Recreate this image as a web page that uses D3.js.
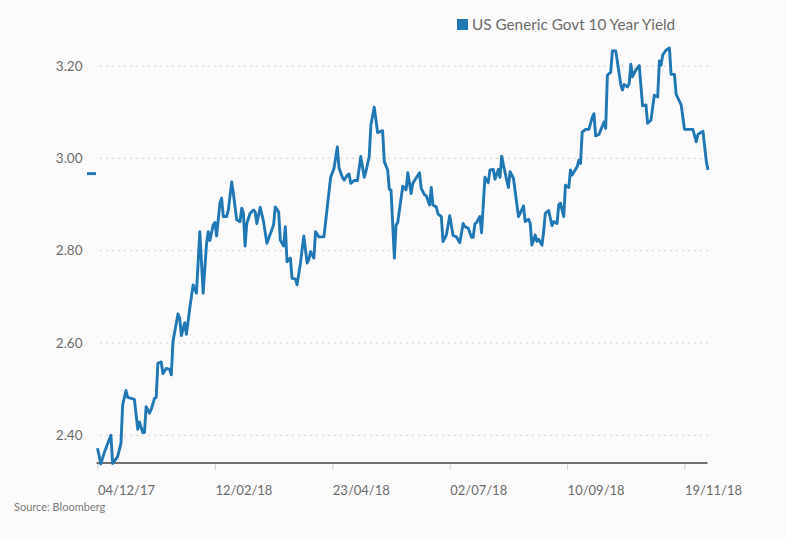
<!DOCTYPE html>
<html>
<head>
<meta charset="utf-8">
<script src="https://cdn.jsdelivr.net/npm/d3@7"></script>
<style>
  html, body { margin: 0; padding: 0; background: #fbfbfb; }
  svg { display: block; font-family: Lato, "Noto Sans", sans-serif; }
</style>
</head>
<body>
<div id="chart"></div>
<script>
// US 10Y yield
const seriesName = "US Generic Govt 10 Year Yield";
const sourceText = "Source: Bloomberg";

const dates = [
  "2017-12-04","2017-12-06","2017-12-08","2017-12-12","2017-12-13","2017-12-16","2017-12-18","2017-12-19",
  "2017-12-21","2017-12-22","2017-12-26","2017-12-28","2017-12-29","2017-12-31","2018-01-01","2018-01-02",
  "2018-01-04","2018-01-05","2018-01-07","2018-01-08","2018-01-09","2018-01-11","2018-01-12","2018-01-14",
  "2018-01-16","2018-01-17","2018-01-18","2018-01-21","2018-01-22","2018-01-23","2018-01-25","2018-01-26",
  "2018-01-28","2018-01-30","2018-02-01","2018-02-03","2018-02-05","2018-02-07","2018-02-08","2018-02-09",
  "2018-02-11","2018-02-12","2018-02-13","2018-02-15","2018-02-16","2018-02-17","2018-02-19","2018-02-20",
  "2018-02-22","2018-02-23","2018-02-25","2018-02-27","2018-02-28","2018-03-01","2018-03-02","2018-03-03",
  "2018-03-05","2018-03-07","2018-03-08","2018-03-09","2018-03-11","2018-03-13","2018-03-15","2018-03-19",
  "2018-03-20","2018-03-22","2018-03-23","2018-03-25","2018-03-26","2018-03-27","2018-03-29","2018-03-30",
  "2018-04-01","2018-04-02","2018-04-04","2018-04-06","2018-04-08","2018-04-09","2018-04-10","2018-04-12",
  "2018-04-13","2018-04-15","2018-04-18","2018-04-22","2018-04-24","2018-04-26","2018-04-27","2018-04-29",
  "2018-04-30","2018-05-02","2018-05-03","2018-05-04","2018-05-06","2018-05-08","2018-05-10","2018-05-12",
  "2018-05-13","2018-05-15","2018-05-16","2018-05-18","2018-05-20","2018-05-23","2018-05-24","2018-05-26",
  "2018-05-27","2018-05-28","2018-05-30","2018-05-31","2018-06-01","2018-06-04","2018-06-06","2018-06-07",
  "2018-06-09","2018-06-10","2018-06-14","2018-06-15","2018-06-17","2018-06-18","2018-06-20","2018-06-21",
  "2018-06-22","2018-06-24","2018-06-25","2018-06-27","2018-06-28","2018-06-30","2018-07-02","2018-07-04",
  "2018-07-06","2018-07-08","2018-07-10","2018-07-11","2018-07-13","2018-07-15","2018-07-16","2018-07-17",
  "2018-07-18","2018-07-20","2018-07-21","2018-07-23","2018-07-25","2018-07-26","2018-07-28","2018-07-29",
  "2018-07-31","2018-08-01","2018-08-02","2018-08-03","2018-08-05","2018-08-06","2018-08-07","2018-08-09",
  "2018-08-12","2018-08-13","2018-08-15","2018-08-16","2018-08-18","2018-08-19","2018-08-20","2018-08-22",
  "2018-08-23","2018-08-24","2018-08-26","2018-08-27","2018-08-28","2018-08-30","2018-09-01","2018-09-02",
  "2018-09-04","2018-09-05","2018-09-06","2018-09-08","2018-09-09","2018-09-11","2018-09-12","2018-09-13",
  "2018-09-16","2018-09-17","2018-09-18","2018-09-19","2018-09-21","2018-09-23","2018-09-25","2018-09-26",
  "2018-09-27","2018-09-29","2018-09-30","2018-10-02","2018-10-03","2018-10-04","2018-10-06","2018-10-07",
  "2018-10-09","2018-10-10","2018-10-12","2018-10-13","2018-10-14","2018-10-16","2018-10-17","2018-10-18",
  "2018-10-19","2018-10-21","2018-10-23","2018-10-25","2018-10-27","2018-10-28","2018-10-30","2018-11-01",
  "2018-11-03","2018-11-04","2018-11-05","2018-11-06","2018-11-08","2018-11-10","2018-11-11","2018-11-13",
  "2018-11-14","2018-11-17","2018-11-19","2018-11-23","2018-11-24","2018-11-26","2018-11-27","2018-11-30",
  "2018-12-02","2018-12-03"
];

const yields = [
  2.372,2.338,2.362,2.400,2.339,2.354,2.383,2.466,
  2.497,2.482,2.478,2.413,2.429,2.406,2.406,2.462,
  2.448,2.456,2.480,2.482,2.556,2.559,2.534,2.545,
  2.543,2.531,2.603,2.663,2.654,2.616,2.644,2.619,
  2.675,2.726,2.708,2.841,2.708,2.815,2.841,2.822,
  2.856,2.861,2.832,2.903,2.914,2.874,2.874,2.888,
  2.949,2.924,2.867,2.863,2.892,2.881,2.810,2.859,
  2.881,2.888,2.884,2.859,2.894,2.863,2.816,2.856,
  2.895,2.884,2.823,2.810,2.852,2.776,2.784,2.740,
  2.739,2.726,2.773,2.832,2.773,2.781,2.798,2.784,
  2.841,2.830,2.830,2.959,2.978,3.025,2.979,2.959,
  2.953,2.964,2.966,2.946,2.952,2.952,3.004,2.959,
  2.971,3.004,3.072,3.111,3.056,3.060,2.993,2.975,
  2.933,2.932,2.784,2.856,2.861,2.940,2.932,2.969,
  2.924,2.946,2.969,2.935,2.921,2.919,2.899,2.937,
  2.899,2.895,2.880,2.874,2.820,2.834,2.876,2.833,
  2.830,2.817,2.859,2.852,2.849,2.829,2.829,2.858,
  2.861,2.874,2.839,2.959,2.947,2.975,2.976,2.955,
  2.976,2.959,3.005,2.986,2.953,2.937,2.971,2.957,
  2.874,2.881,2.897,2.863,2.868,2.859,2.812,2.834,
  2.820,2.825,2.812,2.841,2.881,2.887,2.854,2.863,
  2.859,2.899,2.903,2.874,2.942,2.937,2.975,2.964,
  2.982,2.996,2.989,3.057,3.063,3.063,3.089,3.097,
  3.049,3.052,3.061,3.079,3.065,3.180,3.187,3.233,
  3.233,3.209,3.160,3.148,3.160,3.155,3.162,3.204,
  3.177,3.192,3.201,3.114,3.116,3.076,3.083,3.137,
  3.133,3.211,3.202,3.224,3.235,3.239,3.182,3.182,
  3.139,3.116,3.063,3.063,3.063,3.036,3.052,3.059,
  2.993,2.975
];

const yTicks = [2.40, 2.60, 2.80, 3.00, 3.20];
const xTicks = ["2017-12-04","2018-02-12","2018-04-23","2018-07-02","2018-09-10","2018-11-19"];
const lastMarker = 2.967;

const W = 786, H = 539;
const parse = d3.timeParse("%Y-%m-%d");
const fmt = d3.timeFormat("%d/%m/%y");
const data = dates.map((d, i) => ({ date: parse(d), value: yields[i] }));

const svg = d3.select("#chart").append("svg")
  .attr("width", W).attr("height", H);

const x = d3.scaleTime()
  .domain([parse("2017-12-04"), parse("2018-12-03")])
  .range([97.5, 708]);

const y = d3.scaleLinear()
  .domain([2.40, 3.20])
  .range([435.3, 66.1]);

const baseY = y(2.34);

// gridlines + y labels
const grid = svg.append("g");
grid.selectAll("line")
  .data(yTicks)
  .enter().append("line")
  .attr("x1", 100).attr("x2", 709)
  .attr("y1", d => y(d)).attr("y2", d => y(d))
  .attr("stroke", "#d2d2d2")
  .attr("stroke-width", 1)
  .attr("stroke-dasharray", "2,4");

grid.selectAll("text")
  .data(yTicks)
  .enter().append("text")
  .attr("x", 82.5)
  .attr("y", d => y(d))
  .attr("dy", "0.35em")
  .attr("text-anchor", "end")
  .attr("fill", "#6b6b6b")
  .style("font-size", "13.5px")
  .text(d => d.toFixed(2));

// x axis
const xAxis = svg.append("g")
  .attr("transform", `translate(0,${baseY})`)
  .call(d3.axisBottom(x)
    .tickValues(xTicks.map(parse))
    .tickFormat(fmt)
    .tickSize(7)
    .tickPadding(16));
xAxis.select(".domain").remove();
xAxis.selectAll(".tick line").attr("stroke", "#d0d0d0");
xAxis.selectAll(".tick text")
  .attr("text-anchor", "start")
  .attr("fill", "#6b6b6b")
  .style("font-size", "13px")
  .style("font-family", "Lato, 'Noto Sans', sans-serif");

svg.append("line")
  .attr("x1", 96.5).attr("x2", 707.5)
  .attr("y1", baseY).attr("y2", baseY)
  .attr("stroke", "#707070")
  .attr("stroke-width", 2);

// series line
const line = d3.line()
  .x(d => x(d.date))
  .y(d => y(d.value));

svg.append("path")
  .datum(data)
  .attr("fill", "none")
  .attr("stroke", "#1f77b4")
  .attr("stroke-width", 2.9)
  .attr("stroke-linejoin", "round")
  .attr("d", line);

// last value marker on the left
svg.append("line")
  .attr("x1", 87).attr("x2", 96)
  .attr("y1", y(lastMarker)).attr("y2", y(lastMarker))
  .attr("stroke", "#1f77b4")
  .attr("stroke-width", 2.9);

// legend
const legend = svg.append("g").attr("transform", "translate(457,19)");
legend.append("rect")
  .attr("width", 11).attr("height", 11)
  .attr("fill", "#1f77b4");
legend.append("text")
  .attr("x", 15).attr("y", 11)
  .attr("fill", "#6b6b6b")
  .style("font-size", "15.3px")
  .text(seriesName);

// source
svg.append("text")
  .attr("x", 14).attr("y", 511)
  .attr("fill", "#7a7a7a")
  .style("font-size", "11px")
  .text(sourceText);
</script>
</body>
</html>
